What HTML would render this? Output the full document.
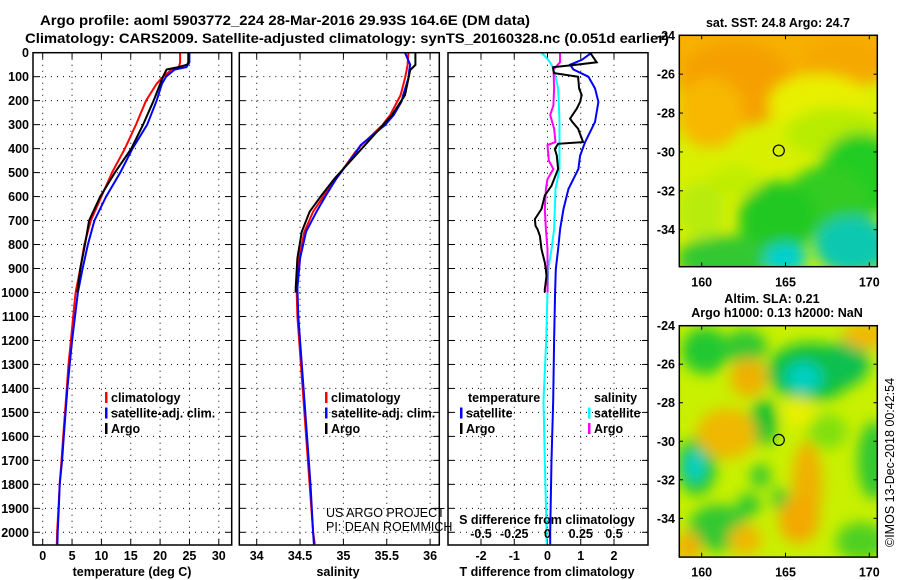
<!DOCTYPE html>
<html><head><meta charset="utf-8"><style>
html,body{margin:0;padding:0;background:#fff;}
svg{display:block;font-family:"Liberation Sans",sans-serif;}
.b{font-weight:bold;font-size:12.5px;}
</style></head><body>
<svg id="c" width="900" height="580" viewBox="0 0 900 580">
<defs>
<filter id="bl" x="-50%" y="-50%" width="200%" height="200%"><feGaussianBlur stdDeviation="7"/></filter>
<filter id="bl2" x="-50%" y="-50%" width="200%" height="200%"><feGaussianBlur stdDeviation="4"/></filter>
<clipPath id="m1c"><rect x="679.3" y="35.3" width="198" height="231.4"/></clipPath>
<clipPath id="m2c"><rect x="679.3" y="325.7" width="198" height="231"/></clipPath>
</defs>
<text x="40" y="25" font-weight="bold" font-size="13.5" textLength="490" lengthAdjust="spacingAndGlyphs">Argo profile: aoml 5903772_224 28-Mar-2016 29.93S 164.6E (DM data)</text>
<text x="25" y="43" font-weight="bold" font-size="13.5" textLength="644" lengthAdjust="spacingAndGlyphs">Climatology: CARS2009. Satellite-adjusted climatology: synTS_20160328.nc (0.051d earlier)</text>
<g id="g"></g>
</svg>
<script>
// ---- data (depth m, value) ----
const tDepths = [0,40,60,70,100,130,200,300,400,500,600,700,800,900,1000,1100,1200,1300,1400,1500,1600,1700,1800,1900,2000,2050];
const tClim =   [23.4,23.4,23.2,22.0,20.5,19.4,17.6,15.9,14.0,11.8,10.0,8.2,7.1,6.4,5.6,5.2,4.8,4.4,4.1,3.8,3.5,3.2,2.9,2.7,2.45,2.4];
const tSat =    [25.0,25.0,24.5,22.5,21.0,20.3,19.4,17.8,15.3,13.2,10.8,8.8,7.7,6.8,6.0,5.5,5.0,4.6,4.2,3.9,3.6,3.3,2.9,2.75,2.55,2.5];
const argoDepths = [0,40,50,60,70,100,200,300,400,500,600,700,800,900,1000];
const tArgo =   [24.8,24.8,24.6,23.1,21.1,20.5,18.9,17.1,15.1,12.3,9.8,7.9,7.2,6.4,5.9];
const sDepths = [0,50,72,106,177,204,260,302,385,413,524,594,663,746,857,982,1100,1300,1500,1800,2000,2050];
const sClim =   [35.75,35.74,35.73,35.71,35.66,35.62,35.54,35.45,35.21,35.14,34.92,34.78,34.65,34.55,34.49,34.46,34.47,34.51,34.55,34.61,34.65,34.67];
const sSat =    [35.71,35.77,35.76,35.75,35.69,35.67,35.58,35.48,35.20,35.15,34.92,34.80,34.69,34.57,34.50,34.47,34.48,34.52,34.56,34.62,34.65,34.66];
const sArgoDepths = [0,51,72,177,260,385,524,594,663,746,857,982,1000];
const sArgo =   [35.83,35.83,35.77,35.71,35.56,35.25,34.90,34.75,34.61,34.52,34.47,34.45,34.45];
const dDepths = [0,40,52,60,70,85,100,149,177,205,233,275,289,317,373,380,401,429,485,555,569,596,652,694,722,736,764,820,875,903,931,987,1000];
const dTArgo =  [1.28,1.48,0.73,0.17,0.17,0.2,0.92,0.95,1.03,0.98,0.88,0.68,0.75,0.92,1.07,0.32,0.22,0.28,0.32,0.12,0.05,-0.08,-0.18,-0.38,-0.36,-0.3,-0.23,-0.18,-0.08,-0.05,-0.03,-0.08,-0.08];
const satDepths = [0,30,50,70,100,149,205,289,373,429,485,569,652,736,820,903,1000,1200,1450,1700,2000,2050];
const dTSat =   [1.33,1.03,0.68,0.78,1.23,1.43,1.53,1.43,1.13,0.98,0.93,0.63,0.48,0.38,0.32,0.25,0.23,0.2,0.17,0.12,0.08,0.08];
const dSSat =   [-0.044,0.006,0.03,0.044,0.06,0.08,0.085,0.09,0.09,0.09,0.09,0.06,0.055,0.05,0.03,0.006,0.0,-0.01,-0.03,-0.02,-0.007,-0.007];
const sArgoDDepths = [0,40,70,149,220,260,317,373,385,450,485,527,569,652,736,820,903,1000];
const dSArgo =  [0.094,0.094,0.045,0.05,0.044,0.02,0.05,0.06,0.0,0.01,0.044,0.0,-0.012,-0.02,-0.012,0.0,0.0,0.0];
// ticks
const depthTicks = [0,100,200,300,400,500,600,700,800,900,1000,1100,1200,1300,1400,1500,1600,1700,1800,1900,2000];
const tTicks = [0,5,10,15,20,25,30];
const sTicks = [34,34.5,35,35.5,36];
const sTickLabels = ["34","34.5","35","35.5","36"];
const dTTicks = [-2,-1,0,1,2];
const dSTicks = [-0.5,-0.25,0,0.25,0.5];
const dSTickLabels = ["-0.5","-0.25","0","0.25","0.5"];
const lonTicks = [160,165,170];
const latTicks = [-24,-26,-28,-30,-32,-34];

const NS="http://www.w3.org/2000/svg";
const G=document.getElementById('g');
function el(tag,attrs,parent,txt){const e=document.createElementNS(NS,tag);for(const k in attrs)e.setAttribute(k,attrs[k]);if(txt!==undefined)e.textContent=txt;(parent||G).appendChild(e);return e;}

const TOP=52.7, BOT=545;
const yD = d => TOP + d*0.2398;
const P1={l:33,r:231.7}, P2={l:239.3,r:439.3}, P3={l:448,r:648};
const xT = v => 42.7 + v*5.87;
const xS = v => 256.7 + (v-34)*86.7;
const xDT = v => 547.5 + v*33.25;
const xDS = v => 547.5 + v*133;

function frame(P,name){
  const g=el('g',{},G);
  
  
  // horizontal grid
  depthTicks.forEach(d=>{ if(d>0){const y=yD(d);
    const l=el('line',{x1:P.l,x2:P.r,y1:y,y2:y,stroke:'#000','stroke-width':1,'stroke-dasharray':'1 5'},g);
    
    el('line',{x1:P.l,x2:P.l+6,y1:y,y2:y,stroke:'#000'},g);
    el('line',{x1:P.r-6,x2:P.r,y1:y,y2:y,stroke:'#000'},g);}});
  return g;
}
function vgrid(g,P,xs){xs.forEach(x=>{
  const l=el('line',{x1:x,x2:x,y1:TOP,y2:BOT,stroke:'#000','stroke-width':1,'stroke-dasharray':'1 5'},g);
  
  el('line',{x1:x,x2:x,y1:BOT-6,y2:BOT,stroke:'#000'},g);
  el('line',{x1:x,x2:x,y1:TOP,y2:TOP+6,stroke:'#000'},g);});}
function box(g,P){el('rect',{x:P.l,y:TOP,width:P.r-P.l,height:BOT-TOP,fill:'none',stroke:'#000','stroke-width':1.5},g);}
function line(g,depths,vals,xf,color,name,w){
  const pts=depths.map((d,i)=>xf(vals[i]).toFixed(1)+','+yD(d).toFixed(1)).join(' ');
  const p=el('polyline',{points:pts,fill:'none',stroke:color,'stroke-width':w||2,'stroke-linejoin':'miter'},g);
  
}
function legend(g,x,y,items){items.forEach((it,i)=>{
  const r=el('rect',{x:x,y:y+i*15.5-10,width:2.5,height:11,fill:it[1]},g);
  
  const t=el('text',{x:x+6,y:y+i*15.5,class:'b','font-size':'12'},g,it[0]);
  });}

// Panel 1
const g1=frame(P1,'temperature-panel');
vgrid(g1,P1,tTicks.map(xT));
line(g1,tDepths,tClim,xT,'#f00','clim-temperature-line');
line(g1,tDepths,tSat,xT,'#00f','sat-temperature-line');
line(g1,argoDepths,tArgo,xT,'#000','argo-temperature-line');
box(g1,P1);
depthTicks.forEach(d=>{const t=el('text',{x:29,y:yD(d)+4.5,'text-anchor':'end',class:'b'},g1,String(d));
  });
tTicks.forEach(v=>{const t=el('text',{x:xT(v),y:560,'text-anchor':'middle',class:'b'},g1,String(v));
  });
let xl=el('text',{x:132,y:576,'text-anchor':'middle',class:'b'},g1,'temperature (deg C)');

legend(g1,105,402,[['climatology','#f00'],['satellite-adj. clim.','#00f'],['Argo','#000']]);

// Panel 2
const g2=frame(P2,'salinity-panel');
vgrid(g2,P2,sTicks.map(xS));
line(g2,sDepths,sClim,xS,'#f00','clim-salinity-line');
line(g2,sDepths,sSat,xS,'#00f','sat-salinity-line');
line(g2,sArgoDepths,sArgo,xS,'#000','argo-salinity-line');
box(g2,P2);
sTicks.forEach((v,i)=>{const t=el('text',{x:xS(v),y:560,'text-anchor':'middle',class:'b'},g2,sTickLabels[i]);
  });
xl=el('text',{x:338,y:576,'text-anchor':'middle',class:'b'},g2,'salinity');

legend(g2,325,402,[['climatology','#f00'],['satellite-adj. clim.','#00f'],['Argo','#000']]);
let cr=el('text',{x:326,y:517,'font-size':'12.5'},g2,'US ARGO PROJECT');

cr=el('text',{x:326,y:531,'font-size':'12.5'},g2,'PI: DEAN ROEMMICH');


// Panel 3
const g3=frame(P3,'difference-panel');
vgrid(g3,P3,dTTicks.map(xDT));
line(g3,satDepths,dSSat,xDS,'#0ff','sat-salinity-diff-line');
line(g3,sArgoDDepths,dSArgo,xDS,'#f0f','argo-salinity-diff-line');
line(g3,satDepths,dTSat,xDT,'#00f','sat-temperature-diff-line');
line(g3,dDepths,dTArgo,xDT,'#000','argo-temperature-diff-line');
box(g3,P3);
dTTicks.forEach(v=>{const t=el('text',{x:xDT(v),y:560,'text-anchor':'middle',class:'b'},g3,String(v));
  });
dSTicks.forEach((v,i)=>{const t=el('text',{x:xDS(v),y:538,'text-anchor':'middle',class:'b'},g3,dSTickLabels[i]);
  });
xl=el('text',{x:547,y:576,'text-anchor':'middle',class:'b'},g3,'T difference from climatology');

xl=el('text',{x:547,y:524,'text-anchor':'middle',class:'b'},g3,'S difference from climatology');

let lt=el('text',{x:468,y:402,class:'b','font-size':'12'},g3,'temperature');

legend(g3,460,417.5,[['satellite','#00f'],['Argo','#000']]);
lt=el('text',{x:594,y:402,class:'b','font-size':'12'},g3,'salinity');

legend(g3,588,417.5,[['satellite','#0ff'],['Argo','#f0f']]);

// Maps
const lonX = lon => 701.7 + (lon-160)*16.76;
function mapPanel(top,lat24y,lat34y,clip,bg,blobs,name,hasTicksLabels){
  const latY = lat => lat24y + (-24-lat)*(lat34y-lat24y)/10;
  const g=el('g',{},G);
  
  const inner=el('g',{'clip-path':'url(#'+clip+')'},g);
  el('rect',{x:679.3,y:top,width:198,height:231.4,fill:bg},inner);
  const bg2=el('g',{filter:'url(#bl)'},inner);
  blobs.forEach(b=>{
    const e=el('ellipse',{cx:lonX(b[0]),cy:latY(b[1]),rx:b[2]*16.76,ry:b[3]*19.4,fill:b[4]},bg2);
    
  });
  el('rect',{x:679.3,y:top,width:198,height:231.4,fill:'none',stroke:'#000','stroke-width':1.5},g);
  const c=el('circle',{cx:lonX(164.6),cy:latY(-29.93),r:5.5,fill:'none',stroke:'#000','stroke-width':1.2},g);
  
  latTicks.forEach(v=>{const y=latY(v);
    el('line',{x1:679.3,x2:683,y1:y,y2:y,stroke:'#000'},g);
    el('line',{x1:873.5,x2:877.3,y1:y,y2:y,stroke:'#000'},g);
    const t=el('text',{x:675,y:y+4.5,'text-anchor':'end',class:'b'},g,String(v));
    });
  lonTicks.forEach(v=>{const x=lonX(v);
    el('line',{x1:x,x2:x,y1:top,y2:top+4,stroke:'#000'},g);
    el('line',{x1:x,x2:x,y1:top+227,y2:top+231,stroke:'#000'},g);
    const t=el('text',{x:x,y:top+251,'text-anchor':'middle',class:'b','font-size':'13'},g,String(v));
    });
}
// blobs: [lon, lat, rxDeg, ryDeg, color]
const sstBlobs = [
 [165,-24.5,8,2.6,'#f7b000'],[162,-26.5,3.5,2.2,'#f5a000'],[160.5,-28,2,1.8,'#f8b800'],
 [168.5,-25.3,2.5,1.2,'#f5a800'],[167,-27.5,3,1.5,'#e8f000'],[168,-29,3,1.3,'#b8ec00'],
 [169.5,-31.2,2.5,2.2,'#20cc20'],[167.5,-32.5,2.5,1.8,'#30cc20'],[164.5,-33.5,2.3,2.0,'#20c820'],
 [161.5,-35.5,3,1.2,'#30c830'],[165,-35.5,1.3,0.8,'#00d0d0'],[169,-34.8,2.3,1.5,'#10c8b0'],
 [160,-33,1.4,1.5,'#b8ec10'],[162,-31.5,1.5,0.8,'#c0ee00']
];
mapPanel(35.3,35.3,229.7,'m1c','#d8f000',sstBlobs,'sst-map',true);
const slaBlobs = [
 [160.2,-25.3,1.4,1.2,'#20c830'],[162.6,-25.1,1.3,0.9,'#30c830'],[166.5,-26.4,2.6,1.5,'#10c040'],
 [166.1,-26.7,1.1,0.8,'#00d0c0'],[168.7,-25.9,1.3,1.2,'#10c050'],[163.7,-29,0.8,1.2,'#10c030'],
 [159.7,-31.3,1.2,1.5,'#20c830'],[159.6,-31.3,0.6,0.8,'#00d0c8'],[170.3,-31,1,2,'#30c830'],
 [161,-34.5,1.8,1.2,'#30c830'],[162.8,-33.3,0.7,0.6,'#30c830'],[164.7,-33,0.5,0.6,'#30c830'],
 [167.5,-29.5,1.2,0.9,'#80e010'],[163.5,-31.8,0.6,0.6,'#30c830'],[169.5,-35.2,1.5,1,'#50d020'],
 [162.8,-26.7,1.1,1,'#f0b000'],[161.5,-29.6,1.8,1.3,'#f0b800'],[166.3,-32.3,0.9,2.3,'#f0b000'],
 [165.8,-34.1,1.2,1.2,'#f4a800'],[162.6,-35.1,1,0.8,'#f0b800'],[169.8,-24.5,1.4,0.7,'#f0b800'],
 [159.2,-35.5,0.8,0.8,'#f0b000'],[165.8,-28.5,1,0.8,'#e8f000']
];
mapPanel(325.7,325.7,518.3,'m2c','#c8f000',slaBlobs,'sla-map',true);

let mt=el('text',{x:778,y:27,'text-anchor':'middle',class:'b','font-size':'12.5'},G,'sat. SST: 24.8 Argo: 24.7');

mt=el('text',{x:772,y:303,'text-anchor':'middle',class:'b','font-size':'12.5'},G,'Altim. SLA: 0.21');

mt=el('text',{x:777,y:317,'text-anchor':'middle',class:'b','font-size':'12.5'},G,'Argo h1000: 0.13 h2000: NaN');

mt=el('text',{x:0,y:0,'font-size':'12.5',transform:'translate(894,547) rotate(-90)'},G,'©IMOS 13-Dec-2018 00:42:54');

</script>
</body></html>
